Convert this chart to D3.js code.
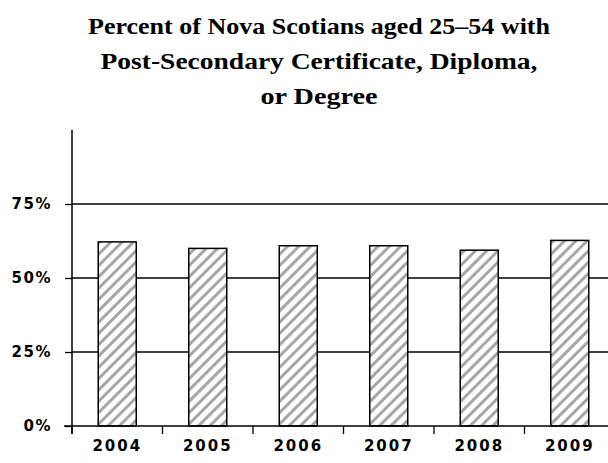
<!DOCTYPE html>
<html>
<head>
<meta charset="utf-8">
<script src="https://cdn.jsdelivr.net/npm/d3@7"></script>
<style>
  body { margin: 0; background: #fff; }
  svg { display: block; }
</style>
</head>
<body>
<div id="chart"></div>
<script>
const years = ["2004", "2005", "2006", "2007", "2008", "2009"];
const percents = [62.2, 60.0, 60.9, 60.9, 59.4, 62.7];
const yTicks = [0, 25, 50, 75];
const titleLines = [
    "Percent of Nova Scotians aged 25\u201354 with",
    "Post-Secondary Certificate, Diploma,",
    "or Degree"
];

const width = 608, height = 463;
const margin = {left: 72, top: 130, bottom: 37};
const plotRight = 615;

const svg = d3.select("#chart")
    .append("svg")
    .attr("width", width)
    .attr("height", height);

// hatch pattern for bars
const defs = svg.append("defs");
const pattern = defs.append("pattern")
    .attr("id", "hatch")
    .attr("patternUnits", "userSpaceOnUse")
    .attr("width", 8)
    .attr("height", 8)
    .attr("patternTransform", "rotate(45)");
pattern.append("rect")
    .attr("width", 8).attr("height", 8)
    .attr("fill", "#fff");
pattern.append("rect")
    .attr("x", 0).attr("y", 0)
    .attr("width", 3).attr("height", 8)
    .attr("fill", "#a6a6a6");

const x = d3.scaleBand()
    .domain(years)
    .range([margin.left, plotRight])
    .paddingInner(0.58)
    .paddingOuter(0.29);

const y = d3.scaleLinear()
    .domain([0, 100])
    .range([height - margin.bottom, margin.top]);

// title
svg.append("g")
    .selectAll("text")
    .data(titleLines)
    .join("text")
    .attr("x", 319)
    .attr("y", (d, i) => 34 + i * 35)
    .attr("text-anchor", "middle")
    .attr("font-family", "Liberation Serif")
    .attr("font-weight", "bold")
    .attr("font-size", 23)
    .attr("textLength", (d, i) => [462, 437, 117][i])
    .attr("lengthAdjust", "spacingAndGlyphs")
    .text(d => d);

// gridlines
svg.append("g")
    .selectAll("line")
    .data(yTicks.filter(d => d > 0))
    .join("line")
    .attr("x1", margin.left)
    .attr("x2", plotRight)
    .attr("y1", d => y(d))
    .attr("y2", d => y(d))
    .attr("stroke", "#000")
    .attr("stroke-width", 1.3);

// bars
svg.append("g")
    .selectAll("rect")
    .data(years)
    .join("rect")
    .attr("x", d => x(d))
    .attr("y", (d, i) => y(percents[i]))
    .attr("width", x.bandwidth())
    .attr("height", (d, i) => y(0) - y(percents[i]))
    .attr("fill", "url(#hatch)")
    .attr("stroke", "#000")
    .attr("stroke-width", 1.5);

// y axis
const yAxis = svg.append("g")
    .attr("transform", `translate(${margin.left},0)`)
    .call(d3.axisLeft(y).tickValues(yTicks).tickSize(7).tickFormat(d => d + "%"));
yAxis.select(".domain")
    .attr("d", `M0,${y(100)}V${y(0) + 8}`)
    .attr("stroke-width", 1.5);
yAxis.selectAll(".tick line").attr("stroke-width", 1.3);
yAxis.selectAll("text")
    .attr("x", -20)
    .attr("font-family", "DejaVu Sans, sans-serif")
    .attr("font-weight", "bold")
    .attr("font-size", 15)
    .attr("letter-spacing", 1.5)
    .attr("fill", "#000");

// x axis with ticks at category boundaries
const boundaries = d3.range(years.length + 1).map(i => margin.left + i * x.step());
const xAxis = svg.append("g");
xAxis.append("line")
    .attr("x1", margin.left - 8)
    .attr("x2", plotRight)
    .attr("y1", y(0))
    .attr("y2", y(0))
    .attr("stroke", "#000")
    .attr("stroke-width", 1.5);
xAxis.selectAll(".bt")
    .data(boundaries)
    .join("line")
    .attr("class", "bt")
    .attr("x1", d => d).attr("x2", d => d)
    .attr("y1", y(0)).attr("y2", y(0) + 8)
    .attr("stroke", "#000")
    .attr("stroke-width", 1.3);
xAxis.selectAll("text")
    .data(years)
    .join("text")
    .attr("x", d => x(d) + x.bandwidth() / 2)
    .attr("y", y(0) + 25)
    .attr("text-anchor", "middle")
    .attr("font-family", "DejaVu Sans, sans-serif")
    .attr("font-weight", "bold")
    .attr("font-size", 15)
    .attr("letter-spacing", 2)
    .text(d => d);
</script>
</body>
</html>
